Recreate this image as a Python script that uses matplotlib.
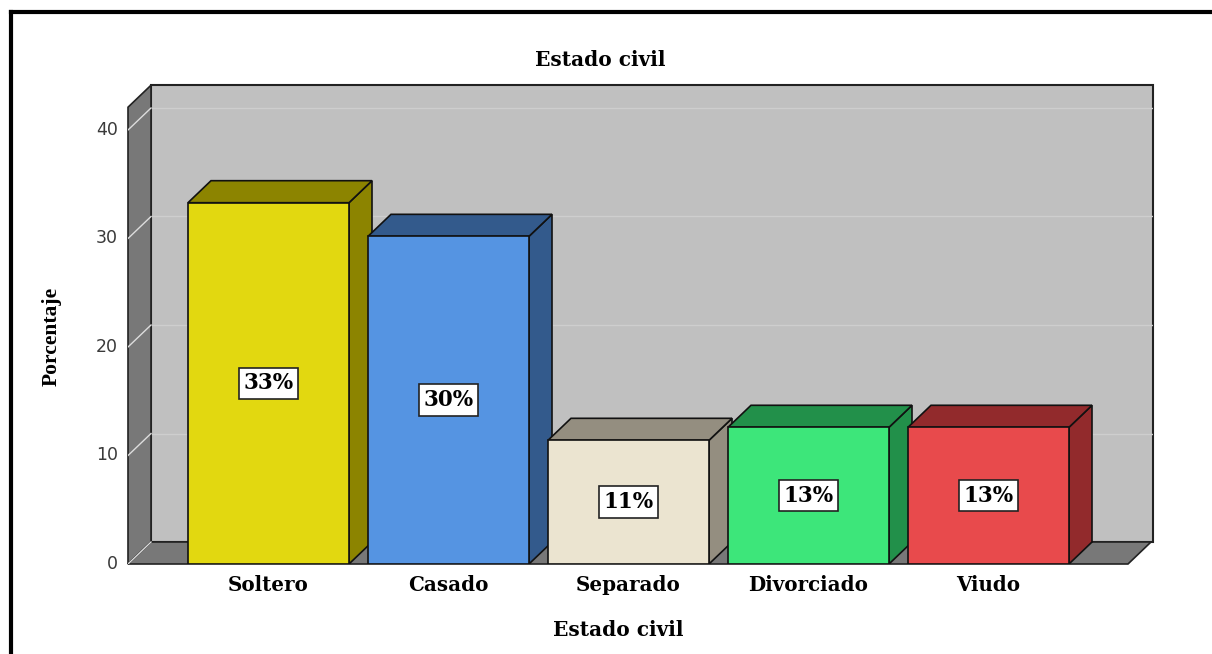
import numpy as np
import matplotlib
matplotlib.use("Agg")
import matplotlib.pyplot as plt
from matplotlib.patches import Polygon, Rectangle
from matplotlib.lines import Line2D

# data
categories = ['Soltero', 'Casado', 'Separado', 'Divorciado', 'Viudo']
values = [33.3, 30.2, 11.4, 12.6, 12.6]
labels = ['33%', '30%', '11%', '13%', '13%']
front_colors = ['#e2d810', '#5594e2', '#ebe4d0', '#3de67a', '#e84a4c']
dark_colors = ['#8c8400', '#335a8c', '#948e80', '#22904a', '#922a2c']
yticks = [0, 10, 20, 30, 40]

fig = plt.figure(figsize=(12.12, 6.54), dpi=100)
# axes placed so that its data space maps onto the chart area
ax = fig.add_axes([128 / 1212, (654 - 564) / 654, (1153 - 128) / 1212, 480 / 654])
px_x = 180.0        # pixels per category
px_y = 10.85        # pixels per percent
x0 = (128 - 268.5) / px_x
x1 = (1153 - 268.5) / px_x
ax.set_xlim(x0, x1)
ax.set_ylim(0, 480 / px_y)
ax.axis('off')

DX = 23 / px_x
DY = 22 / px_y
wall_top = 42.1
floor_right = (1128 - 268.5) / px_x

# back wall
ax.add_patch(Rectangle((x0 + DX, DY), x1 - x0 - DX, wall_top, facecolor='#c0c0c0',
                       edgecolor='#222222', lw=1.5, zorder=1, clip_on=False))
# left wall
ax.add_patch(Polygon([(x0, 0), (x0 + DX, DY), (x0 + DX, wall_top + DY), (x0, wall_top)],
                     closed=True, facecolor='#787878', edgecolor='#222222', lw=1.2, zorder=2,
                     clip_on=False))
# floor
ax.add_patch(Polygon([(x0, 0), (floor_right, 0), (floor_right + DX, DY), (x0 + DX, DY)],
                     closed=True, facecolor='#787878', edgecolor='#222222', lw=1.2, zorder=2,
                     clip_on=False))

# grid lines and ticks
for t in yticks:
    if t > 0:
        ax.add_line(Line2D([x0 + DX, x1], [t + DY, t + DY], color='#cecece', lw=1, zorder=1.5))
    ax.add_line(Line2D([x0, x0 + DX], [t, t + DY], color='#dddddd', lw=1, zorder=2.5))
    ax.text(x0 - 10 / px_x, t, str(t), ha='right', va='center', fontsize=12.5,
            color='#3a3a3a', family='DejaVu Sans')

# bars
w = 161 / px_x
for i, (v, fc, dc) in enumerate(zip(values, front_colors, dark_colors)):
    l, r = i - w / 2, i + w / 2
    z = 3 + i
    ax.add_patch(Polygon([(r, 0), (r + DX, DY), (r + DX, v + DY), (r, v)], closed=True,
                         facecolor=dc, edgecolor='#111111', lw=1.2, zorder=z))
    ax.add_patch(Polygon([(l, v), (r, v), (r + DX, v + DY), (l + DX, v + DY)], closed=True,
                         facecolor=dc, edgecolor='#111111', lw=1.2, zorder=z))
    ax.add_patch(Rectangle((l, 0), w, v, facecolor=fc, edgecolor='#111111', lw=1.2, zorder=z))
    ax.text(i, v / 2, labels[i], ha='center', va='center', fontsize=15.5, fontweight='bold',
            family='DejaVu Serif', zorder=20,
            bbox=dict(boxstyle='square,pad=0.22', facecolor='white', edgecolor='#222222', lw=1.2))
    ax.text(i, -21 / px_y, categories[i], ha='center', va='center', fontsize=14.3,
            fontweight='bold', family='DejaVu Serif')

fig.text(600 / 1212, 1 - 60 / 654, 'Estado civil', ha='center', va='center', fontsize=14.5,
         fontweight='bold', family='DejaVu Serif')
fig.text(618 / 1212, 1 - 630 / 654, 'Estado civil', ha='center', va='center', fontsize=14.5,
         fontweight='bold', family='DejaVu Serif')
fig.text(52 / 1212, 1 - 336 / 654, 'Porcentaje', ha='center', va='center', rotation=90,
         fontsize=15.5, fontweight='bold', family='Liberation Serif')

# outer frame
fig.add_artist(Line2D([11 / 1212, 11 / 1212], [0, 1 - 12 / 654], color='black', lw=3,
                      transform=fig.transFigure))
fig.add_artist(Line2D([11 / 1212, 1], [1 - 12 / 654, 1 - 12 / 654], color='black', lw=3,
                      transform=fig.transFigure))

fig.savefig('out.png', dpi=100)
